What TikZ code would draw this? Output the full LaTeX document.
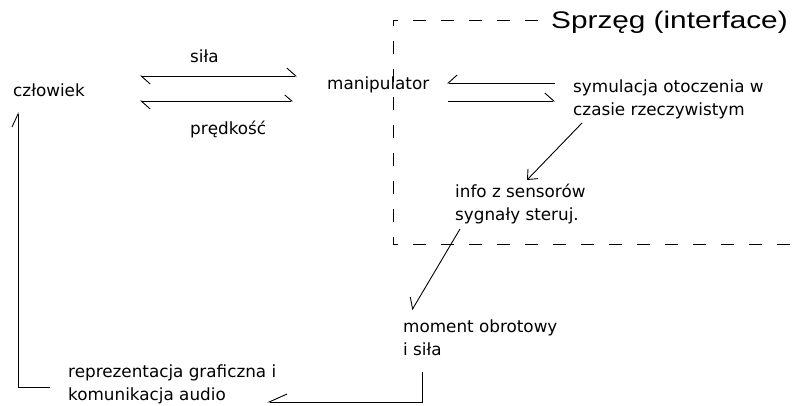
\documentclass[tikz,border=0pt]{standalone}
\usepackage{fontspec}
\setmainfont{DejaVu Sans}
\newfontfamily\bigfont[FakeStretch=1.24]{Liberation Sans}
\usetikzlibrary{arrows.meta}
\begin{document}
\begin{tikzpicture}[x=1pt,y=-1pt,
  txt/.style={anchor=base west,inner sep=0pt,align=left,
    font=\fontsize{16.8}{23}\selectfont},
  conn/.style={line width=0.9pt,black},
  hl/.style={-{Straight Barb[left,length=9pt,width=16pt,line width=0.9pt]}},
  hr/.style={-{Straight Barb[right,length=9pt,width=16pt,line width=0.9pt]}},
  frame/.style={line width=1pt,dash pattern=on 13pt off 15pt,dash phase=8pt}]
\useasboundingbox (0,0) rectangle (793,406);
% texts (base = baseline of the last line)
\node[txt] (czl) at (13,97) {człowiek};
\node[txt] (sila) at (190,63) {siła};
\node[txt] (predk) at (190,135) {prędkość};
\node[txt] (manip) at (327,90) {manipulator};
\node[txt] (sym) at (573,116) {symulacja otoczenia w\\czasie rzeczywistym};
\node[txt] (info) at (455,221) {info z sensorów\\sygnały steruj.};
\node[txt] (moment) at (403,355) {moment obrotowy\\i siła};
\node[txt] (repr) at (68,400) {reprezentacja graficzna i\\komunikacja audio};
\node[anchor=base west,inner sep=0pt,font=\bigfont\fontsize{24}{28}\selectfont] (sprzeg) at (551,29) {Sprzęg (interface)};
% frame
\coordinate (fa) at (543,21);
\coordinate (fb) at (393,21);
\coordinate (fc) at (393,245);
\coordinate (fd) at (793,245);
\draw[frame] (fb) -- (fa);
\draw[frame] (fb) -- (fc);
\draw[frame] (fc) -- (fd);
% connector end points
\coordinate (s1) at (140,76);  \coordinate (s2) at (297,76);
\coordinate (p1) at (140,101); \coordinate (p2) at (293,101);
\coordinate (m1) at (555,83);  \coordinate (m2) at (447,83);
\coordinate (m3) at (448,101); \coordinate (m4) at (555,101);
\coordinate (y1) at (582,123); \coordinate (y2) at (527,180);
\coordinate (i1) at (460,229); \coordinate (i2) at (412,310);
\coordinate (o1) at (422,372); \coordinate (o2) at (267,402);
\coordinate (r1) at (50,387);  \coordinate (r2) at (18,112);
% connectors
\draw[conn,{Straight Barb[left,length=9pt,width=16pt,line width=0.9pt]}-{Straight Barb[left,length=9pt,width=16pt,line width=0.9pt]}] (s1) -- (s2);
\draw[conn,{Straight Barb[left,length=9pt,width=16pt,line width=0.9pt]}-{Straight Barb[left,length=7pt,width=12pt,line width=0.9pt]}] (p1) -- (p2);
\draw[conn,hr] (m1) -- (m2);
\draw[conn,hl] (m3) -- (m4);
\draw[conn,-{Straight Barb[length=8pt,width=14pt,line width=0.9pt]}] (y1) -- (y2);
\draw[conn,hr] (i1) -- (i2);
\draw[conn,-{Straight Barb[right,length=18pt,width=16pt,line width=0.9pt]}] (o1) |- (o2);
\draw[conn,-{Straight Barb[left,length=13pt,width=12pt,line width=0.9pt]}] (r1) -| (r2);
\end{tikzpicture}
\end{document}
